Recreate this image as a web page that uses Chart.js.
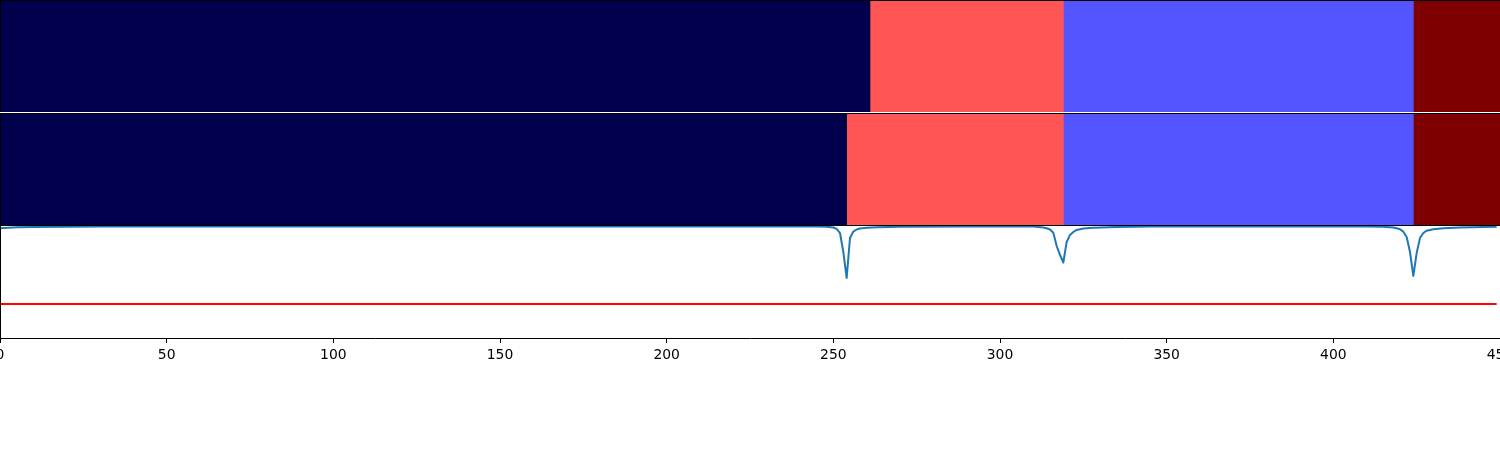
<!DOCTYPE html>
<html><head><meta charset="utf-8">
<script src="https://cdn.jsdelivr.net/npm/chart.js@4.4.0/dist/chart.umd.min.js"></script>
<style>
html,body{margin:0;padding:0;background:#fff;width:1500px;height:450px;overflow:hidden;}
.p{position:absolute;left:0;width:1500px;}
</style></head><body>
<div class="p" style="top:0;height:112px"><canvas id="c1"></canvas></div>
<div class="p" style="top:113px;height:112px"><canvas id="c2"></canvas></div>
<div class="p" style="top:225px;height:225px"><canvas id="c3"></canvas></div>
<script>
// ---- data ----
const xTicks = [0, 50, 100, 150, 200, 250, 300, 350, 400, 450];
const segmentLabels = ['seg0', 'seg1', 'seg2', 'seg3'];
const segmentColors = ['#00004c', '#ff5555', '#5555ff', '#7f0000'];
const rowTopBounds = [0, 261, 319, 424, 450];
const rowBottomBounds = [0, 254, 319, 424, 450];
const scoreX = [0,5,10,20,30,100,200,245,248,250,251,252,253,254,255,256,257,258,260,263,270,290,310,313,314,315,316,317,318,319,320,321,322,323,325,328,335,345,380,410,415,418,419,420,421,422,423,424,425,426,427,428,430,433,438,445,449];
const scoreY = [0.971,0.979,0.982,0.985,0.986,0.987,0.987,0.987,0.985,0.978,0.965,0.929,0.761,0.531,0.885,0.942,0.960,0.969,0.975,0.981,0.984,0.986,0.986,0.978,0.971,0.960,0.932,0.814,0.735,0.668,0.850,0.912,0.938,0.956,0.969,0.976,0.982,0.986,0.987,0.987,0.984,0.978,0.971,0.962,0.941,0.894,0.761,0.549,0.752,0.885,0.929,0.950,0.963,0.971,0.978,0.982,0.984];
const thresholdX = [0, 449];
const thresholdY = [0.3, 0.3];

// ---- plugin: axes frame ----
const framePlugin = {
  id: 'frame',
  afterDraw(chart, args, opts) {
    const {ctx, chartArea: a} = chart;
    const sides = opts.sides || [];
    ctx.save();
    ctx.strokeStyle = '#000';
    ctx.lineWidth = 1;
    ctx.beginPath();
    if (sides.includes('top')) { ctx.moveTo(a.left, a.top + 0.5); ctx.lineTo(a.right, a.top + 0.5); }
    if (sides.includes('left')) { ctx.moveTo(a.left + 0.5, a.top); ctx.lineTo(a.left + 0.5, a.bottom); }
    if (sides.includes('right')) { ctx.moveTo(a.right - 0.5, a.top); ctx.lineTo(a.right - 0.5, a.bottom); }
    if (sides.includes('bottom')) { ctx.moveTo(a.left, a.bottom - 0.5); ctx.lineTo(a.right, a.bottom - 0.5); }
    ctx.stroke();
    ctx.restore();
  }
};
Chart.register(framePlugin);

function heatChart(id, bounds) {
  const datasets = segmentLabels.map((lab, i) => ({
    label: lab,
    data: [[bounds[i], bounds[i + 1]]],
    backgroundColor: segmentColors[i],
    borderWidth: 0,
    barPercentage: 1,
    categoryPercentage: 1,
    grouped: false
  }));
  new Chart(document.getElementById(id), {
    type: 'bar',
    data: { labels: ['row'], datasets },
    options: {
      indexAxis: 'y',
      responsive: true,
      maintainAspectRatio: false,
      animation: false,
      layout: { padding: 0 },
      plugins: { legend: { display: false }, tooltip: { enabled: false }, frame: { sides: ['top', 'left'] } },
      scales: {
        x: { type: 'linear', min: xTicks[0], max: xTicks[xTicks.length - 1], display: false },
        y: { display: false }
      }
    }
  });
}
heatChart('c1', rowTopBounds);
heatChart('c2', rowBottomBounds);

new Chart(document.getElementById('c3'), {
  type: 'line',
  data: {
    datasets: [
      { data: scoreX.map((x, i) => ({ x, y: scoreY[i] })), borderColor: '#1f77b4', borderWidth: 2, borderJoinStyle: 'round', borderCapStyle: 'butt', pointRadius: 0, tension: 0, fill: false },
      { data: thresholdX.map((x, i) => ({ x, y: thresholdY[i] })), borderColor: '#ff0000', borderWidth: 2, pointRadius: 0, fill: false }
    ]
  },
  options: {
    responsive: true,
    maintainAspectRatio: false,
    animation: false,
    layout: { padding: 0 },
    plugins: { legend: { display: false }, tooltip: { enabled: false }, frame: { sides: ['top', 'left'] } },
    scales: {
      x: {
        type: 'linear',
        min: xTicks[0],
        max: xTicks[xTicks.length - 1],
        afterBuildTicks(scale) { scale.ticks = xTicks.map(v => ({ value: v })); },
        ticks: { color: '#000', font: { family: 'DejaVu Sans', size: 13.9 }, padding: 4, maxRotation: 0, autoSkip: false },
        grid: { drawOnChartArea: false, drawTicks: true, tickLength: 5, color: '#000', lineWidth: 1 },
        border: { display: true, color: '#000', width: 1 },
        afterFit(scale) { scale.paddingLeft = 0; scale.paddingRight = 0; scale.height = 112; }
      },
      y: { type: 'linear', min: 0, max: 1, display: false }
    }
  }
});
</script>
</body></html>
